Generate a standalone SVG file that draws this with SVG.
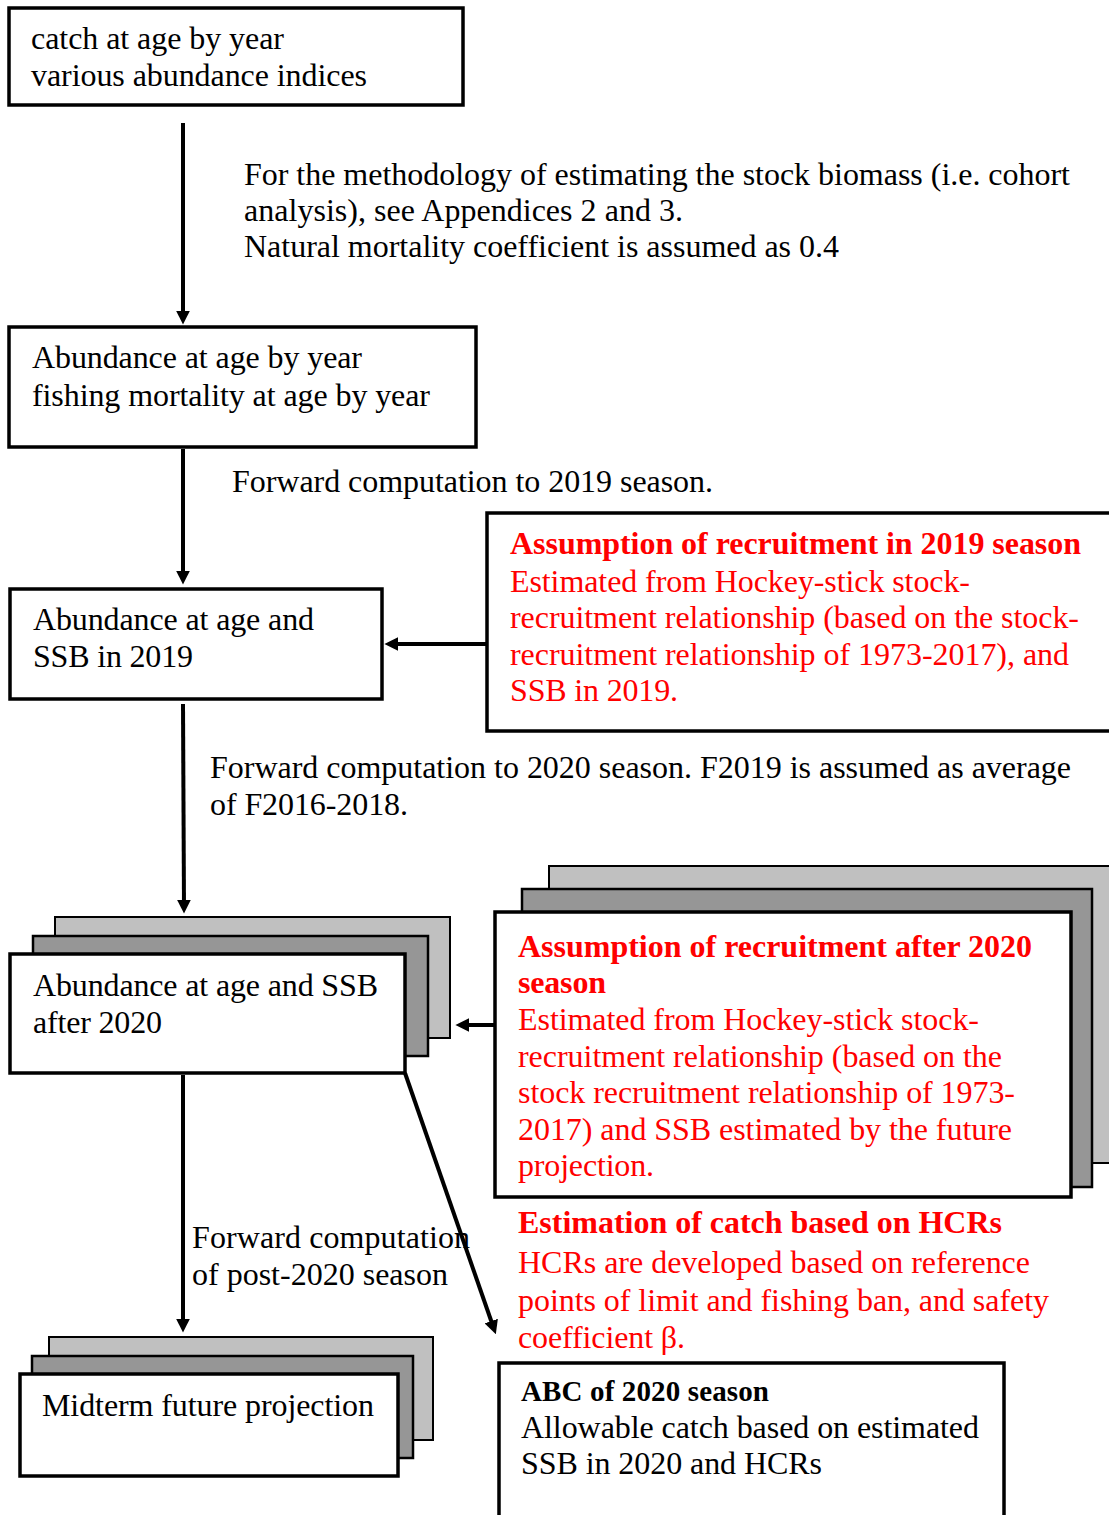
<svg xmlns="http://www.w3.org/2000/svg" width="1109" height="1515" viewBox="0 0 1109 1515">
<defs>
<marker id="ah" viewBox="0 0 10 10" refX="6" refY="5" markerWidth="14" markerHeight="14" markerUnits="userSpaceOnUse" orient="auto"><path d="M0,0 L10,5 L0,10 z" fill="#000"/></marker>
<style>
text{font-family:"Liberation Serif","Times New Roman",serif;font-size:32px;fill:#000}
.r{fill:#ff0000}
.b{font-weight:bold}
.box{fill:#fff;stroke:#000;stroke-width:3.5}
.g1{fill:#c0c0c0;stroke:#000;stroke-width:2}
.g2{fill:#969696;stroke:#000;stroke-width:2.5}
.c{stroke:#000;stroke-width:4;fill:none}
</style>
</defs>
<rect width="1109" height="1515" fill="#fff"/>

<g id="n1"><rect class="box" x="9" y="8" width="454" height="97"/>
<text x="31" y="49" textLength="253">catch at age by year</text><text x="31" y="86" textLength="336">various abundance indices</text></g>

<g id="n2"><rect class="box" x="9" y="327" width="467" height="120"/>
<text x="32" y="368" textLength="330">Abundance at age by year</text><text x="32" y="406" textLength="398">fishing mortality at age by year</text></g>

<g id="n3"><rect class="box" x="10" y="589" width="372" height="110"/>
<text x="33" y="630" textLength="281">Abundance at age and</text><text x="33" y="667" textLength="160">SSB in 2019</text></g>

<g id="n4"><rect class="box" x="487" y="513" width="625" height="218"/>
<text class="r b" x="510" y="554" textLength="571">Assumption of recruitment in 2019 season</text>
<text class="r" x="510" y="592" textLength="460">Estimated from Hockey-stick stock-</text>
<text class="r" x="510" y="628" textLength="569">recruitment relationship (based on the stock-</text>
<text class="r" x="510" y="665" textLength="559">recruitment relationship of 1973-2017), and</text>
<text class="r" x="510" y="701" textLength="168">SSB in 2019.</text></g>

<g id="n5"><rect class="g1" x="55" y="917" width="395" height="121"/><rect class="g2" x="33" y="936" width="395" height="120"/><rect class="box" x="10" y="954" width="395" height="119"/>
<text x="33" y="996" textLength="345">Abundance at age and SSB</text><text x="33" y="1033" textLength="129">after 2020</text></g>

<g id="n6"><rect class="g1" x="549" y="866" width="565" height="297"/><rect class="g2" x="522" y="889" width="570" height="298"/><rect class="box" x="495" y="912" width="576" height="285"/>
<text class="r b" x="518" y="957" textLength="514">Assumption of recruitment after 2020</text>
<text class="r b" x="518" y="993" textLength="88">season</text>
<text class="r" x="518" y="1030" textLength="461">Estimated from Hockey-stick stock-</text>
<text class="r" x="518" y="1067" textLength="484">recruitment relationship (based on the</text>
<text class="r" x="518" y="1103" textLength="497">stock recruitment relationship of 1973-</text>
<text class="r" x="518" y="1140" textLength="494">2017) and SSB estimated by the future</text>
<text class="r" x="518" y="1176" textLength="136">projection.</text></g>

<g id="n7"><rect class="g1" x="49" y="1337" width="384" height="103"/><rect class="g2" x="32" y="1356" width="381" height="102"/><rect class="box" x="20" y="1374" width="378" height="102"/>
<text x="42" y="1416" textLength="332">Midterm future projection</text></g>

<g id="n8"><rect class="box" x="499" y="1363" width="505" height="170"/>
<text class="b" x="521" y="1401" style="font-size:29px" textLength="248">ABC of 2020 season</text>
<text x="521" y="1438" textLength="458">Allowable catch based on estimated</text>
<text x="521" y="1474" textLength="301">SSB in 2020 and HCRs</text></g>

<g id="labels">
<text x="244" y="185" textLength="826">For the methodology of estimating the stock biomass (i.e. cohort</text>
<text x="244" y="221" textLength="439">analysis), see Appendices 2 and 3.</text>
<text x="244" y="257" textLength="595">Natural mortality coefficient is assumed as 0.4</text>
<text x="232" y="492" textLength="481">Forward computation to 2019 season.</text>
<text x="210" y="778" textLength="861">Forward computation to 2020 season. F2019 is assumed as average</text>
<text x="210" y="815" textLength="198">of F2016-2018.</text>
<text x="192" y="1248" textLength="278">Forward computation</text>
<text x="192" y="1285" textLength="256">of post-2020 season</text>
<text class="r b" x="518" y="1233" textLength="484">Estimation of catch based on HCRs</text>
<text class="r" x="518" y="1273" textLength="512">HCRs are developed based on reference</text>
<text class="r" x="518" y="1311" textLength="531">points of limit and fishing ban, and safety</text>
<text class="r" x="518" y="1348" textLength="167">coefficient β.</text>
</g>

<g id="connectors">
<line class="c" x1="183" y1="123" x2="183" y2="319" marker-end="url(#ah)"/>
<line class="c" x1="183" y1="449" x2="183" y2="579" marker-end="url(#ah)"/>
<line class="c" x1="487" y1="644" x2="390" y2="644" marker-end="url(#ah)"/>
<line class="c" x1="183" y1="704" x2="184" y2="908" marker-end="url(#ah)"/>
<line class="c" x1="495" y1="1025" x2="461" y2="1025" marker-end="url(#ah)"/>
<line class="c" x1="183" y1="1075" x2="183" y2="1327" marker-end="url(#ah)"/>
<line class="c" x1="405" y1="1073" x2="494" y2="1329" marker-end="url(#ah)"/>
</g>
</svg>
